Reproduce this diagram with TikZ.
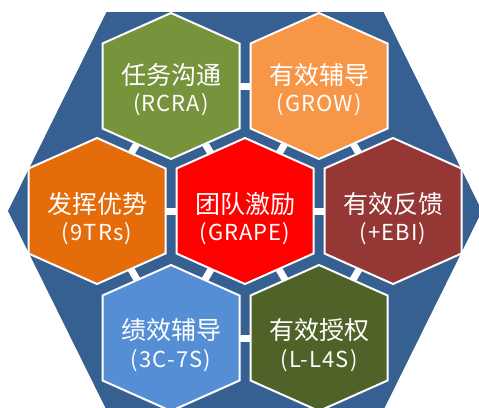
\documentclass[tikz,border=0pt]{standalone}
\usepackage{fontspec}
\usetikzlibrary{calc}
\newfontfamily\cjk{Noto Sans CJK SC}
\newfontfamily\cjksub[LetterSpace=5]{Noto Sans CJK SC}
\definecolor{frameblue}{HTML}{376092}
\definecolor{taskgreen}{HTML}{77933C}
\definecolor{groworange}{HTML}{F79646}
\definecolor{strengthorange}{HTML}{E46C0A}
\definecolor{grapered}{HTML}{FF0000}
\definecolor{ebibrown}{HTML}{953735}
\definecolor{perfblue}{HTML}{558ED5}
\definecolor{authgreen}{HTML}{4F6228}
\begin{document}
\begin{tikzpicture}[x=1pt, y=-1pt,
  cell/.style={draw=white, line width=2pt},
  bridge/.style={white, line width=7pt},
  headline/.style={text=white, inner sep=0pt, font=\cjk\fontsize{25}{30}\selectfont},
  subline/.style={text=white, inner sep=0pt, font=\cjksub\fontsize{22}{26}\selectfont}]
  \clip (0,0) rectangle (479,407);
  % outer frame
  \fill[frameblue] (106.5,12) -- (383.5,12) -- (482,211) -- (383.5,410) -- (106.5,410) -- (8,211) -- cycle;
  % cell centres
  \coordinate (task) at (171,86);
  \coordinate (grow) at (319,86);
  \coordinate (strength) at (97,211);
  \coordinate (grape) at (245,211);
  \coordinate (ebi) at (393,211);
  \coordinate (perf) at (171,338);
  \coordinate (auth) at (319,338);
  % cells
  \foreach \c/\col in {task/taskgreen, grow/groworange, strength/strengthorange, grape/grapered,
                       ebi/ebibrown, perf/perfblue, auth/authgreen}
    \draw[cell, fill=\col, shift={(\c)}] (-68.5,-42.5) -- (0,-73) -- (68.5,-42.5)
      -- (68.5,42.5) -- (0,73) -- (-68.5,42.5) -- cycle;
  % little white links across the gaps
  \foreach \a/\b in {task/grow, task/strength, task/grape, grow/grape, grow/ebi, strength/grape,
                     grape/ebi, strength/perf, grape/perf, grape/auth, ebi/auth, perf/auth}
    \draw[bridge] ($(\a)!0.5!(\b)!6pt!(\a)$) -- ($(\a)!0.5!(\b)!6pt!(\b)$);
  % labels
  \node[headline] (task-cn) at ($(task)+(0,-11)$) {任务沟通};
  \node[subline] (task-en) at ($(task)+(0,19)$) {(RCRA)};
  \node[headline] (grow-cn) at ($(grow)+(0,-11)$) {有效辅导};
  \node[subline] (grow-en) at ($(grow)+(0,19)$) {(GROW)};
  \node[headline] (strength-cn) at ($(strength)+(0,-7)$) {发挥优势};
  \node[subline] (strength-en) at ($(strength)+(0,23)$) {(9TRs)};
  \node[headline] (grape-cn) at ($(grape)+(0,-7)$) {团队激励};
  \node[subline] (grape-en) at ($(grape)+(0,23)$) {(GRAPE)};
  \node[headline] (ebi-cn) at ($(ebi)+(0,-7)$) {有效反馈};
  \node[subline] (ebi-en) at ($(ebi)+(0,23)$) {(+EBI)};
  \node[headline] (perf-cn) at ($(perf)+(0,-8)$) {绩效辅导};
  \node[subline] (perf-en) at ($(perf)+(0,23)$) {(3C-7S)};
  \node[headline] (auth-cn) at ($(auth)+(0,-8)$) {有效授权};
  \node[subline] (auth-en) at ($(auth)+(0,23)$) {(L-L4S)};
\end{tikzpicture}
\end{document}
